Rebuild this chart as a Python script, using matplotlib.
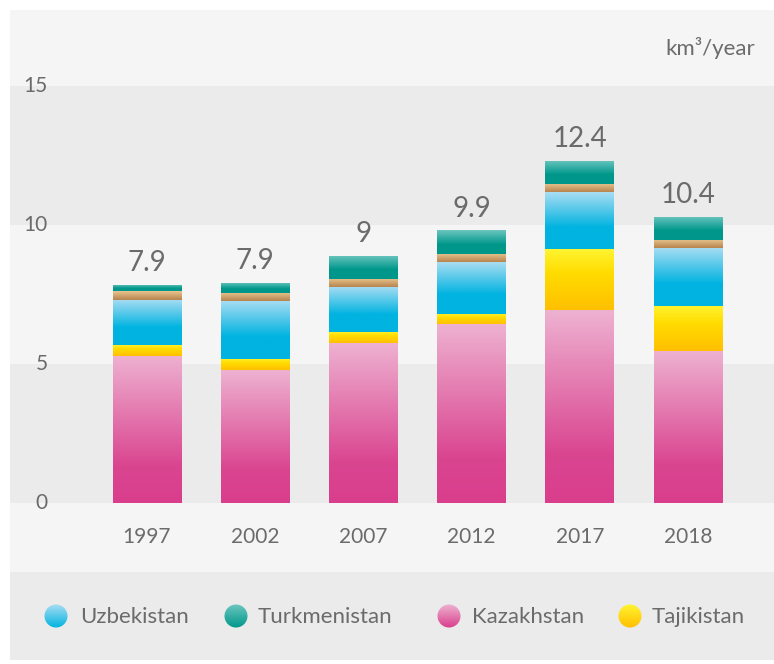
import numpy as np
import matplotlib
matplotlib.use("Agg")
import matplotlib.pyplot as plt
from matplotlib.colors import LinearSegmentedColormap
from matplotlib.patches import Circle

plt.rcParams['font.family'] = ['Lato', 'DejaVu Sans']

# data (km3/year)
years = ["1997", "2002", "2007", "2012", "2017", "2018"]
kazakhstan = [5.29, 4.78, 5.76, 6.44, 6.94, 5.47]
tajikistan = [0.40, 0.40, 0.40, 0.36, 2.19, 1.62]
uzbekistan = [1.62, 2.09, 1.62, 1.87, 2.05, 2.09]
kyrgyzstan = [0.32, 0.29, 0.29, 0.29, 0.31, 0.29]
turkmenistan = [0.22, 0.36, 0.83, 0.86, 0.83, 0.83]
total_labels = ["7.9", "7.9", "9", "9.9", "12.4", "10.4"]
legend_names = ["Uzbekistan", "Turkmenistan", "Kazakhstan", "Tajikistan"]

# gradients, top -> bottom
grad_kaz = [(0, "#eeb2d1"), (0.75, "#da4590"), (1, "#d93e8c")]
grad_taj = [(0, "#fff430"), (0.4, "#ffdc00"), (1, "#ffbf00")]
grad_uzb = [(0, "#a9ddf3"), (0.62, "#00b3e0"), (1, "#00b3e0")]
grad_kyr = [(0, "#e8c690"), (1, "#b8834f")]
grad_tur = [(0, "#6cc6bf"), (0.6, "#00978b"), (1, "#00978b")]

text_col = "#6b6b6b"
W, H = 774, 664


def grad_fill(ax, patch, stops, z=2):
    cmap = LinearSegmentedColormap.from_list("g", stops)
    x, y = patch.get_x(), patch.get_y()
    w, h = patch.get_width(), patch.get_height()
    img = np.linspace(0, 1, 256).reshape(-1, 1)
    im = ax.imshow(img, cmap=cmap, extent=[x, x + w, y, y + h], origin="upper",
                   aspect="auto", zorder=z, interpolation="bilinear")
    im.set_clip_path(patch)


fig = plt.figure(figsize=(W / 100, H / 100), dpi=100)
fig.patch.set_facecolor("white")

# main plot area in pixels: x 10..774, y 10..572
ax = fig.add_axes([10 / W, (H - 572) / H, 764 / W, 562 / H])
ax.set_facecolor("#f5f5f5")
for s in ax.spines.values():
    s.set_visible(False)

px_x = 108.2   # pixels per bar slot
px_y = 27.8    # pixels per unit
xmin = -(147 - 10) / px_x
xmax = (774 - 147) / px_x
ymin = -(572 - 503) / px_y
ymax = (503 - 10) / px_y

ax.axhspan(0, 5, color="#ebebeb", zorder=0, lw=0)
ax.axhspan(10, 15, color="#ebebeb", zorder=0, lw=0)

x = np.arange(len(years))
bw = 69 / px_x
bottom = np.zeros(len(years))
series = [(kazakhstan, grad_kaz), (tajikistan, grad_taj), (uzbekistan, grad_uzb),
          (kyrgyzstan, grad_kyr), (turkmenistan, grad_tur)]
for vals, g in series:
    bars = ax.bar(x, vals, bw, bottom=bottom, color=g[-1][1], lw=0, zorder=1)
    for p in bars:
        grad_fill(ax, p, g)
    bottom = bottom + np.array(vals)

for i, lab in enumerate(total_labels):
    ax.annotate(lab, (x[i], bottom[i]), xytext=(0, 6), textcoords="offset points",
                ha="center", va="bottom", fontsize=20, color=text_col)

for i, yr in enumerate(years):
    ax.text(x[i], -34 / px_y, yr, ha="center", va="center", fontsize=15, color=text_col)

for t in [0, 5, 10, 15]:
    ax.text(xmin + 38 / px_x, t, str(t), ha="right", va="center", fontsize=15,
            color=text_col)

ax.text((755 - 10) / 764, 1 - (48 - 10) / 562, "km³/year", transform=ax.transAxes,
        ha="right", va="center", fontsize=16, color=text_col)

ax.set_xlim(xmin, xmax)
ax.set_ylim(ymin, ymax)
ax.set_xticks([])
ax.set_yticks([])

# legend strip: pixels x 10..774, y 572..660
lax = fig.add_axes([10 / W, (H - 660) / H, 764 / W, 88 / H])
lax.set_facecolor("#ebebeb")
lax.set_xticks([])
lax.set_yticks([])
for s in lax.spines.values():
    s.set_visible(False)

leg_x = [56, 236, 449, 630]
leg_text_x = [80, 258, 472, 652]
leg_grads = [grad_uzb, grad_tur, grad_kaz, grad_taj]
for cx, tx, name, g in zip(leg_x, leg_text_x, legend_names, leg_grads):
    c = Circle((cx, 616), 11.5, facecolor="none", lw=0)
    lax.add_patch(c)
    cmap = LinearSegmentedColormap.from_list("g", [(0, g[0][1]), (1, g[-1][1])])
    im = lax.imshow(np.linspace(0, 1, 64).reshape(-1, 1), cmap=cmap,
                    extent=[cx - 12, cx + 12, 628, 604], origin="upper", aspect="auto")
    im.set_clip_path(c)
    lax.text(tx, 617, name, ha="left", va="center", fontsize=16, color=text_col)
lax.set_xlim(10, 774)
lax.set_ylim(660, 572)

fig.savefig("out.png", dpi=100)
